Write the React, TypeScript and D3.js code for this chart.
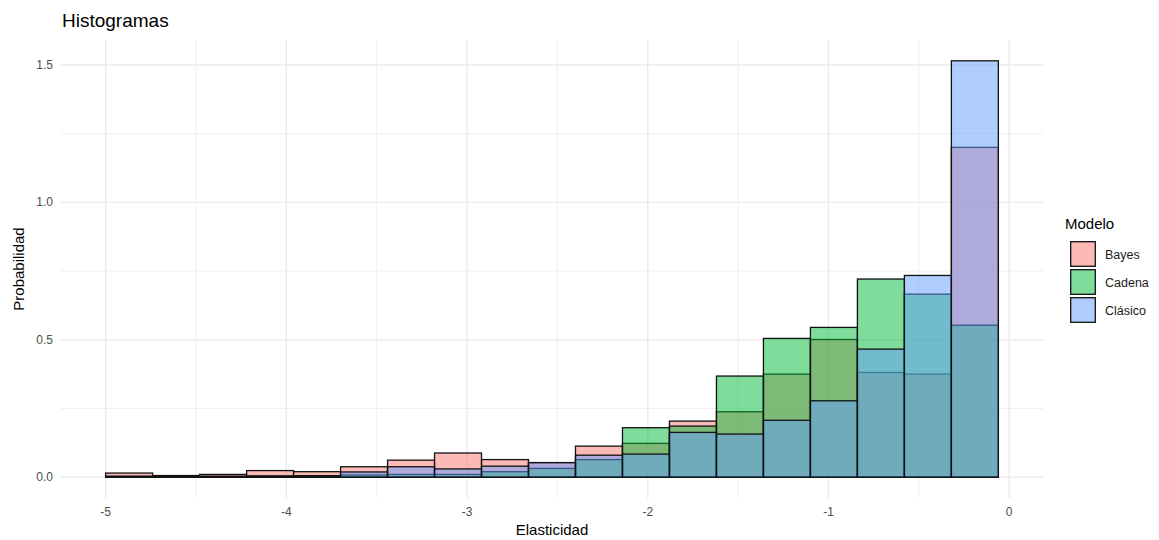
import React from "react";
import * as d3 from "d3";

const binStart = -5;
const binWidth = 0.26;
const seriesNames = ["Bayes", "Cadena", "Clásico"];
const seriesColors = ["#F8766D", "#00BA38", "#619CFF"];
const bayes = [0.015, 0.006, 0.010, 0.024, 0.020, 0.038, 0.062, 0.088, 0.064, 0.053, 0.113, 0.123, 0.204, 0.238, 0.375, 0.501, 0.381, 0.375, 1.200];
const cadena = [0.003, 0.002, 0.003, 0.004, 0.005, 0.008, 0.010, 0.010, 0.020, 0.032, 0.064, 0.180, 0.186, 0.368, 0.505, 0.545, 0.721, 0.666, 0.553];
const clasico = [0.003, 0.002, 0.003, 0.004, 0.005, 0.019, 0.038, 0.030, 0.040, 0.053, 0.080, 0.084, 0.163, 0.157, 0.207, 0.278, 0.466, 0.734, 1.515];
const xTicks = [-5, -4, -3, -2, -1, 0];
const yTicks = [0, 0.5, 1.0, 1.5];
const xMinor = [-4.5, -3.5, -2.5, -1.5, -0.5];
const yMinor = [0.25, 0.75, 1.25];

const W = 1159, H = 540;
const panel = { left: 61, right: 1043, top: 40, bottom: 498 };
const font = "'Liberation Sans', Arial, sans-serif";

export default function App() {
  const series = [bayes, cadena, clasico];
  const xmin = binStart;
  const xmax = binStart + binWidth * bayes.length;
  const ymax = d3.max(series.flat()) as number;
  const xpad = (xmax - xmin) * 0.05;
  const ypad = ymax * 0.05;
  const x = d3.scaleLinear().domain([xmin - xpad, xmax + xpad]).range([panel.left, panel.right]);
  const y = d3.scaleLinear().domain([-ypad, ymax + ypad]).range([panel.bottom, panel.top]);
  const grid = "#EBEBEB";
  const fmtY = d3.format(".1f");

  return (
    <svg width={W} height={H} style={{ position: "absolute", left: 0, top: 0, background: "#fff" }} fontFamily={font}>
      {/* grid */}
      {xMinor.map((v) => (
        <line key={"xm" + v} x1={x(v)} x2={x(v)} y1={panel.top} y2={panel.bottom} stroke={grid} strokeWidth={0.8} />
      ))}
      {yMinor.map((v) => (
        <line key={"ym" + v} x1={panel.left} x2={panel.right} y1={y(v)} y2={y(v)} stroke={grid} strokeWidth={0.8} />
      ))}
      {xTicks.map((v) => (
        <line key={"xg" + v} x1={x(v)} x2={x(v)} y1={panel.top} y2={panel.bottom} stroke={grid} strokeWidth={1.4} />
      ))}
      {yTicks.map((v) => (
        <line key={"yg" + v} x1={panel.left} x2={panel.right} y1={y(v)} y2={y(v)} stroke={grid} strokeWidth={1.4} />
      ))}
      {/* bars */}
      {series.map((vals, si) => (
        <g key={si}>
          {vals.map((v, i) => {
            const x0 = x(binStart + i * binWidth);
            const x1 = x(binStart + (i + 1) * binWidth);
            return (
              <rect
                key={i}
                x={x0}
                y={y(v)}
                width={x1 - x0}
                height={y(0) - y(v)}
                fill={seriesColors[si]}
                fillOpacity={0.5}
                stroke="#111"
                strokeWidth={1.3}
              />
            );
          })}
        </g>
      ))}
      {/* axis labels */}
      {xTicks.map((v) => (
        <text key={"xt" + v} x={x(v)} y={516} textAnchor="middle" fontSize={12} fill="#4D4D4D">
          {v}
        </text>
      ))}
      {yTicks.map((v) => (
        <text key={"yt" + v} x={53} y={y(v) + 4} textAnchor="end" fontSize={12} fill="#4D4D4D">
          {fmtY(v)}
        </text>
      ))}
      <text x={(panel.left + panel.right) / 2} y={535} textAnchor="middle" fontSize={15} fill="#000">
        Elasticidad
      </text>
      <text transform={`translate(24, ${(panel.top + panel.bottom) / 2}) rotate(-90)`} textAnchor="middle" fontSize={15} fill="#000">
        Probabilidad
      </text>
      <text x={62} y={27} fontSize={19} fill="#000">
        Histogramas
      </text>
      {/* legend */}
      <text x={1065} y={229} fontSize={15} fill="#000">
        Modelo
      </text>
      {seriesNames.map((n, i) => (
        <g key={n} transform={`translate(1070, ${241 + i * 28})`}>
          <rect x={0} y={0} width={26} height={26} fill="#fff" />
          <rect x={0.7} y={0.7} width={24.6} height={24.6} fill={seriesColors[i]} fillOpacity={0.5} stroke="#111" strokeWidth={1.3} />
          <text x={35} y={18} fontSize={12.5} fill="#1a1a1a">
            {n}
          </text>
        </g>
      ))}
    </svg>
  );
}
